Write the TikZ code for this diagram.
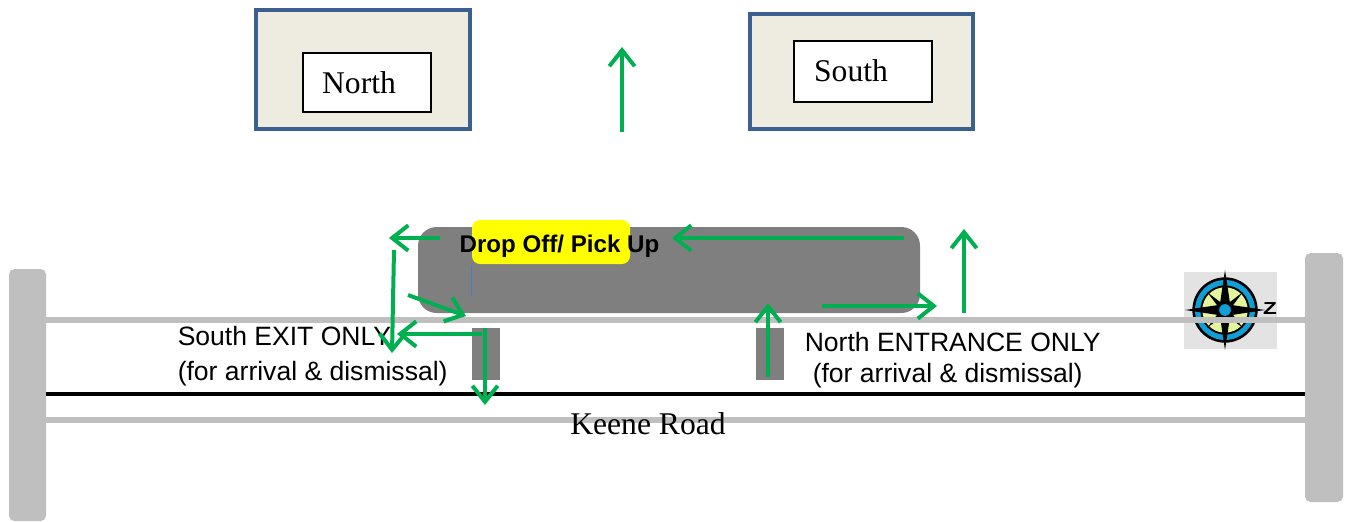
\documentclass[tikz,border=0pt]{standalone}
\usepackage{fontspec}
\setmainfont{Liberation Serif}
\newfontfamily\arialf{Liberation Sans}
\usetikzlibrary{arrows.meta,calc}
\definecolor{arrowgreen}{HTML}{00B050}
\definecolor{roadgray}{HTML}{BFBFBF}
\definecolor{lotgray}{HTML}{7F7F7F}
\definecolor{bldfill}{HTML}{EEECE1}
\definecolor{bldline}{HTML}{3B5F8F}
\definecolor{compblue}{HTML}{0F9ED5}
\definecolor{compgreen}{HTML}{E4F59C}
\definecolor{labelyellow}{HTML}{FFFF00}
\definecolor{markblue}{HTML}{4A7EBB}
\tikzset{
  x=0.75pt,y=-0.75pt,
  flow/.style={draw=arrowgreen,line width=3pt,-{Straight Barb[length=12pt,width=19pt,line width=3pt]}},
  road/.style={draw=roadgray,line width=4.4pt},
  post/.style={fill=roadgray,rounded corners=4pt},
  building/.style={draw=bldline,line width=3.5pt,fill=bldfill},
  label box/.style={draw=black,line width=0.8pt,fill=white,inner sep=0pt},
  serifbig/.style={font=\fontsize{23.7pt}{28pt}\selectfont,inner sep=0pt},
  lot/.style={fill=lotgray},
  signtext/.style={font=\arialf\fontsize{19.9pt}{24pt}\selectfont,anchor=base west,inner sep=0pt},
  star/.style={fill=black}
}
\begin{document}
\begin{tikzpicture}
\useasboundingbox (0,0) rectangle (1348,521);
% posts
\fill[post] (9,269) rectangle (46,521);
\fill[post] (1305,253) rectangle (1343,502);
% buildings
\filldraw[building] (256,10) rectangle (470,129);
\filldraw[building] (750,14) rectangle (973,129);
\node[label box,minimum width=96pt,minimum height=44.25pt] (north) at (367,82.5) {};
\node[label box,minimum width=103.5pt,minimum height=45.75pt] (south) at (863,71.5) {};
\node[serifbig] (northt) at (359,83) {North};
\node[serifbig] (southt) at (851,71) {South};
% lot and driveways
\fill[lot,rounded corners=14pt] (418,227) rectangle (920,313);
\fill[lot] (472,328) rectangle (500,380);
\fill[lot] (756,328) rectangle (784,380);
% compass
\fill[black!11] (1184,272) rectangle (1277,349);
\coordinate (cc) at (1225,310);
\fill[black] (cc) circle (24.5pt);
\fill[compblue] (cc) circle (22.5pt);
\fill[black] (cc) circle (18.5pt);
\fill[compgreen] (cc) circle (17pt);
\foreach \a in {45,135,225,315}{
  \fill[star] ($(cc)+(\a:25)$) -- ($(cc)+(\a+90:3.5)$) -- ($(cc)+(\a-90:3.5)$) -- cycle;
}
\foreach \a in {0,90,180,270}{
  \fill[star] ($(cc)+(\a:40)$) -- ($(cc)+(\a+90:6)$) -- ($(cc)+(\a-90:6)$) -- cycle;
}
\fill[compblue,draw=black,line width=0.6pt] (cc) circle (4.8pt);
\node[font=\arialf\bfseries\fontsize{13pt}{14pt}\selectfont,inner sep=0pt,xscale=1.3] (compassz) at (1270,309) {Z};
% roads
\draw[road] (46,320) -- (1305,320);
\draw[draw=black,line width=3pt] (46,393.5) -- (1305,393.5);
\draw[road] (46,420) -- (1305,420);
% yellow label
\fill[labelyellow,rounded corners=6pt] (472,220) rectangle (630,264);
\draw[draw=markblue,line width=1.2pt] (471.3,265) -- (471.3,296);
\node[font=\arialf\bfseries\fontsize{18.1pt}{20pt}\selectfont,inner sep=0pt] (drop) at (559.5,246) {Drop Off/ Pick Up};
% texts
\node[signtext] (s1) at (177.5,345) {South EXIT ONLY};
\node[signtext] (s2) at (177.5,380) {(for arrival \& dismissal)};
\node[signtext] (n1) at (804.5,351) {North ENTRANCE ONLY};
\node[signtext] (n2) at (812.5,382) {(for arrival \& dismissal)};
\node[serifbig] (keene) at (648,424) {Keene Road};
% arrows
\coordinate (a1s) at (622,132); \coordinate (a1e) at (622,47);
\coordinate (a2s) at (964,313); \coordinate (a2e) at (964,229);
\coordinate (a3s) at (904,238); \coordinate (a3e) at (672,238);
\coordinate (a4s) at (822,306); \coordinate (a4e) at (937,306);
\coordinate (a5s) at (768,377); \coordinate (a5e) at (768,303);
\coordinate (a6s) at (440,238); \coordinate (a6e) at (389,238);
\coordinate (a7s) at (394,250); \coordinate (a7e) at (392,353);
\coordinate (a8s) at (408,295); \coordinate (a8e) at (466,316);
\coordinate (a9s) at (482,334); \coordinate (a9e) at (397,334);
\coordinate (a10s) at (485,328); \coordinate (a10e) at (485,405);
\foreach \n in {1,...,10}{\draw[flow] (a\n s) -- (a\n e);}
\end{tikzpicture}
\end{document}
